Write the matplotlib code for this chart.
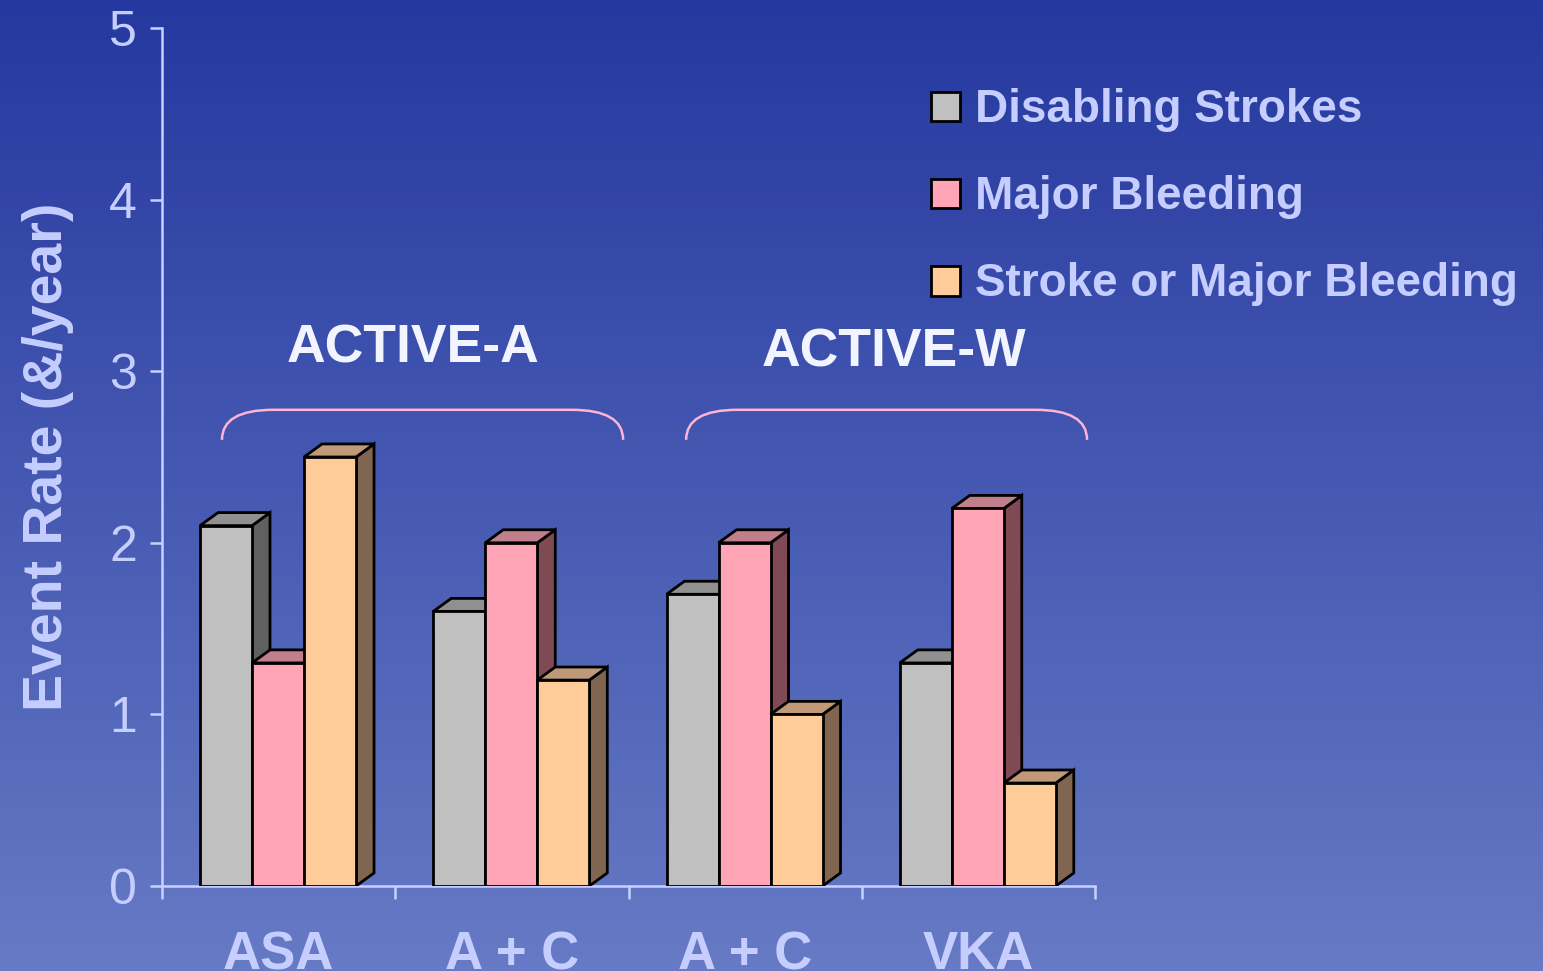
import numpy as np
import matplotlib
matplotlib.use("Agg")
import matplotlib.pyplot as plt
from matplotlib.patches import Polygon, Rectangle, PathPatch
from matplotlib.path import Path

plt.rcParams['font.family'] = ['Liberation Sans', 'DejaVu Sans']

groups = ["ASA", "A + C", "A + C", "VKA"]
series = ["Disabling Strokes", "Major Bleeding", "Stroke or Major Bleeding"]
disabling = [2.1, 1.6, 1.7, 1.3]
bleeding = [1.3, 2.0, 2.0, 2.2]
combined = [2.5, 1.2, 1.0, 0.6]
trials = ["ACTIVE-A", "ACTIVE-W"]

front_cols = ["#C0C0C0", "#FFA5B5", "#FFCC99"]
side_cols = ["#606060", "#804A55", "#806650"]
top_cols = ["#909090", "#C07F8A", "#C09A78"]
txt_col = "#C5CEFF"
axis_col = "#C8D0FF"

W, H = 1543, 971
fig = plt.figure(figsize=(W / 100, H / 100), dpi=100)

# background gradient
bg = fig.add_axes([0, 0, 1, 1], zorder=-5)
top_rgb = np.array([37, 56, 159]) / 255
bot_rgb = np.array([102, 122, 197]) / 255
t = np.linspace(0, 1, 256)[:, None]
grad = top_rgb[None, :] * (1 - t) + bot_rgb[None, :] * t
bg.imshow(grad[:, None, :], aspect="auto", extent=[0, 1, 0, 1])
bg.axis("off")

ax = fig.add_axes([162 / W, 85 / H, 933 / W, 858 / H])
ax.set_facecolor("none")
ax.set_xlim(0, 4)
ax.set_ylim(0, 5)

bw = 0.223
start = 0.163
dx, dy = 0.077, 0.076
data = [disabling, bleeding, combined]
z = 3
for g in range(len(groups)):
    for s in range(3):
        x = g + start + s * bw
        h = data[s][g]
        side = Polygon([(x + bw, 0), (x + bw + dx, dy), (x + bw + dx, h + dy), (x + bw, h)],
                       closed=True, facecolor=side_cols[s], edgecolor="black", lw=2, zorder=z)
        top = Polygon([(x, h), (x + dx, h + dy), (x + bw + dx, h + dy), (x + bw, h)],
                      closed=True, facecolor=top_cols[s], edgecolor="black", lw=2, zorder=z)
        ax.add_patch(side)
        ax.add_patch(top)
        ax.bar(x, h, width=bw, align="edge", color=front_cols[s], edgecolor="black",
               lw=2, zorder=z + 1)
        z += 2

# braces over the trial groups
brace_x = [(0.257, 1.977), (2.247, 3.966)]
label_pos = [(1.077, 3.13), (3.138, 3.11)]
for i, (x0, x1) in enumerate(brace_x):
    y0, y1 = 2.60, 2.775
    r = 0.22
    verts = [(x0, y0), (x0, y1), (x0 + r, y1), (x1 - r, y1), (x1, y1), (x1, y0)]
    codes = [Path.MOVETO, Path.CURVE3, Path.CURVE3, Path.LINETO, Path.CURVE3, Path.CURVE3]
    ax.add_patch(PathPatch(Path(verts, codes), facecolor="none", edgecolor="#FFB3D6", lw=1.8))
    ax.text(label_pos[i][0], label_pos[i][1], trials[i], ha="center", va="center",
            fontsize=38.5, fontweight="bold", color="#F2F5FF")

for sp in ["top", "right"]:
    ax.spines[sp].set_visible(False)
for sp in ["left", "bottom"]:
    ax.spines[sp].set_color(axis_col)
    ax.spines[sp].set_linewidth(1.8)
    ax.spines[sp].set_zorder(2)

ax.set_yticks(range(6))
ax.set_xticks(range(5))
ax.set_xticklabels([])
ax.set_xticks([0.5, 1.5, 2.5, 3.5], minor=True)
ax.set_xticklabels(groups, minor=True, fontsize=38, fontweight="bold", color=txt_col)
ax.tick_params(axis="x", which="minor", length=0, pad=32)
ax.tick_params(axis="x", which="major", length=9, width=1.8, color=axis_col)
ax.tick_params(axis="y", length=9, width=1.8, color=axis_col, labelsize=36,
               labelcolor=txt_col, pad=9)
ax.set_ylabel("Event Rate (&/year)", fontsize=40, fontweight="bold", color=txt_col, labelpad=25)

# legend
for i, name in enumerate(series):
    yc = 107 + i * 87
    fig.patches.append(Rectangle((931 / W, (H - yc - 14.5) / H), 29 / W, 29 / H,
                                 transform=fig.transFigure, facecolor=front_cols[i],
                                 edgecolor="black", lw=2))
    fig.text(975 / W, (H - yc - 3) / H, name, ha="left", va="center", fontsize=33,
             fontweight="bold", color=txt_col)

fig.savefig("out.png", dpi=100)
